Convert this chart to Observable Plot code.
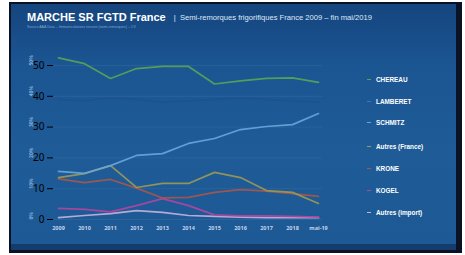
<!DOCTYPE html>
<html>
<head>
<meta charset="utf-8">
<script src="https://cdn.jsdelivr.net/npm/d3@7"></script>
<script src="https://cdn.jsdelivr.net/npm/@observablehq/plot@0.6"></script>
<style>
  html, body { margin: 0; padding: 0; background: #fff; }
  #wrap { position: relative; width: 465px; height: 255px; overflow: hidden; font-family: "Liberation Sans", Arial, sans-serif; }
  #frame { position: absolute; left: 9px; top: 2px; width: 453px; height: 251px; background: #0a1224; }
  #panel { position: absolute; left: 11px; top: 4px; width: 445px; height: 240px;
           background: linear-gradient(#15457f 0%, #1b5592 25%, #1e5b97 60%, #1d5995 100%); }
  #band { position: absolute; left: 11px; top: 244px; width: 445px; height: 6px; background: #143d6e; }
  #title { position: absolute; left: 27px; top: 11px; color: #fff; font-weight: bold; font-size: 11px; white-space: nowrap; }
  #title span { font-weight: normal; font-size: 7.6px; color: #dfe9f6; margin-left: 8px; vertical-align: 1px; }
  #source { position: absolute; left: 27px; top: 25px; color: #7fa6d4; font-size: 3.6px; white-space: nowrap; }
  #chart { position: absolute; left: 0; top: 0; }
  .leg { position: absolute; left: 367px; color: #fff; font-weight: bold; font-size: 6.4px; white-space: nowrap; line-height: 8px; }
  .leg i { display: inline-block; width: 4px; height: 1.5px; vertical-align: 2px; margin-right: 5px; }
</style>
</head>
<body>
<div id="wrap">
  <div id="frame"></div>
  <div id="panel"></div>
  <div id="band"></div>
  <div id="title">MARCHE SR FGTD France<span>|&nbsp; Semi-remorques frigorifiques France 2009 – fin mai/2019</span></div>
  <div id="source">Source AAA Data – Immatriculations neuves (semi-remorques) – CV</div>
  <div id="chart"></div>
  <div id="legend"></div>
</div>
<script>
// ---- data (market share, %) ----
const years = ["2009","2010","2011","2012","2013","2014","2015","2016","2017","2018","mai-19"];
const yTicks = [0, 10, 20, 30, 40, 50];
const names = ["CHEREAU","LAMBERET","SCHMITZ","Autres (France)","KRONE","KOGEL","Autres (import)"];
const colors = ["#5aa554","#1b5291","#6aa6dd","#9c9a55","#a8574a","#b0479e","#c6b3dd"];
const legendColors = ["#5aa554","#3f74b8","#6aa6dd","#9c9a55","#a8574a","#b0479e","#c6b3dd"];
const chereau      = [52.5, 50.6, 45.8, 49.0, 49.7, 49.7, 44.0, 45.0, 45.8, 46.0, 44.5];
const lamberet     = [39.0, 38.5, 39.5, 39.0, 38.0, 38.5, 39.0, 39.5, 39.0, 38.5, 38.0];
const schmitz      = [15.6, 15.0, 17.5, 20.8, 21.4, 24.7, 26.3, 29.2, 30.2, 30.8, 34.4];
const autresFrance = [13.6, 14.9, 17.5, 10.4, 11.7, 11.7, 15.3, 13.6,  9.4,  8.8,  5.2];
const krone        = [13.2, 12.0, 13.0, 10.2,  7.0,  7.2,  8.8,  9.7,  9.2,  8.4,  7.5];
const kogel        = [ 3.6,  3.3,  2.5,  4.5,  6.8,  4.5,  1.5,  1.2,  1.2,  1.0,  0.8];
const autresImport = [ 0.6,  1.3,  1.9,  2.9,  2.3,  1.3,  1.0,  0.8,  0.6,  0.6,  0.6];
const seriesValues = [chereau, lamberet, schmitz, autresFrance, krone, kogel, autresImport];

// build long table
const rows = [];
names.forEach((n, i) => years.forEach((y, j) => rows.push({serie: n, year: y, value: seriesValues[i][j]})));
const drawOrder = ["LAMBERET","Autres (import)","KOGEL","KRONE","Autres (France)","SCHMITZ","CHEREAU"];

const chart = Plot.plot({
  width: 465, height: 255,
  marginLeft: 53, marginRight: 143, marginTop: 65, marginBottom: 36,
  style: {background: "transparent", overflow: "visible"},
  x: {type: "point", domain: years, padding: 0, label: null},
  y: {domain: [0, 50], label: null},
  color: {domain: names, range: colors},
  marks: [
    Plot.gridY(yTicks, {stroke: "#ffffff", strokeOpacity: 0.06}),
    Plot.axisX({tickSize: 0, tickPadding: 7, fontSize: 5.5, fontWeight: "bold", fill: "#c2d4ec", label: null}),
    Plot.text(yTicks, {y: d => d, text: d => d + "%", frameAnchor: "left", dx: -22, rotate: -90,
                       fontSize: 5, fill: "#84abd9", fontWeight: "bold"}),
    ...drawOrder.map(n => Plot.line(rows.filter(r => r.serie === n),
      {x: "year", y: "value", stroke: "serie", strokeWidth: 1.7, strokeOpacity: 0.9, curve: "linear"}))
  ]
});
document.getElementById("chart").appendChild(chart);

// legend
const legY = [76, 98, 119, 143, 165, 187, 209];
const leg = document.getElementById("legend");
names.forEach((n, i) => {
  const d = document.createElement("div");
  d.className = "leg";
  d.style.top = legY[i] + "px";
  d.innerHTML = `<i style="background:${legendColors[i]}"></i>${n}`;
  leg.appendChild(d);
});
</script>
</body>
</html>
